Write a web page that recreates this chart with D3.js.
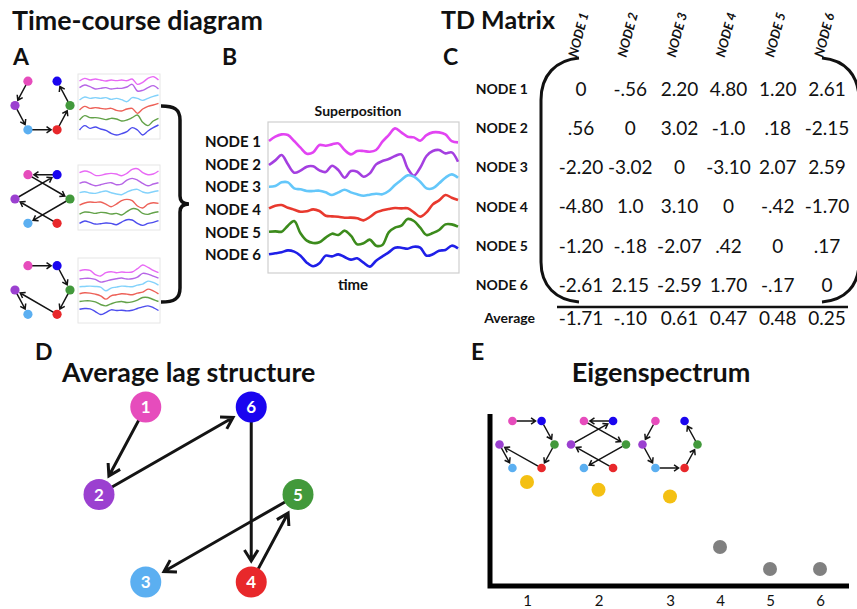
<!DOCTYPE html>
<html>
<head>
<meta charset="utf-8">
<script src="https://cdn.jsdelivr.net/npm/d3@7"></script>
<style>
  body { margin: 0; background: #fff; }
  svg { display: block; }
  text { font-family: Lato, "Open Sans", sans-serif; fill: #111; }
</style>
</head>
<body>
<svg id="fig" width="857" height="609"></svg>
<script>
// ---------------- data ----------------
const nodes = [1, 2, 3, 4, 5, 6];
const nodeLabels = nodes.map(n => "NODE " + n);
const nodeColors = { 1: "#e64cbc", 2: "#9b40d0", 3: "#5baff1", 4: "#e8282b", 5: "#42993b", 6: "#1a05ef" };
const traceColors = ["#e244f2", "#a43fe0", "#64c7fa", "#e8392e", "#3c8b1c", "#1f1fe8"];

// superposition of the node time courses (31 samples each)
const traceNode1 = [0.2,1.5,2.2,2.0,0.2,-1.8,-3.6,-3.2,-1.0,-1.2,-0.8,-0.5,-2.5,-3.8,-2.8,-2.8,-3.0,-2.5,0,2.0,4.0,2.8,1.5,1.3,0.3,2.0,2.8,2.8,2.2,0.2,-0.2];
const traceNode2 = [-0.2,1.2,2.8,0,-2.5,-1.9,-0.7,-0.6,-1.8,-2.3,-0.4,-1.7,-4.0,-2.0,-2.2,-3.7,-2.7,0,1.0,1.6,2.5,3.0,-1.2,-3.4,-1.0,2.5,4.0,4.3,3.3,3.6,0.8];
const traceNode3 = [0.1,0.3,1.4,1.4,-0.4,-0.7,-1.2,-1.2,-1.1,-1.6,-2.4,-1.6,-0.8,-1.6,-2.2,-2.6,-2.3,-2.0,-2.2,-1.2,0.6,2.1,3.5,3.1,1.6,-0.4,-0.4,1.1,2.8,3.8,2.8];
const traceNode4 = [0.4,1.2,1.4,0.6,0,-0.6,-0.5,0.1,-0.4,-1.8,-2.0,-2.1,-2.4,-2.4,-2.6,-3.2,-2.2,-0.8,-0.2,0.2,0.5,0.4,0.4,-0.8,-2.1,-0.8,1.6,2.8,4.4,3.6,2.9];
const traceNode5 = [0.2,0.3,0.2,2.0,3.4,-0.3,-2.5,-3.2,-3.0,-1.6,-0.4,-0.8,0.5,-1.0,-3.6,-3.3,-2.2,-4.0,-3.8,0,1.4,2.0,4.0,3.4,1.4,-0.8,-0.2,0.7,2.4,2.4,1.7];
const traceNode6 = [0.2,0.5,0.8,1.4,1.0,-0.2,-2.3,-3.4,-2.5,-0.2,-0.4,0.2,-0.6,-1.4,-1.0,-2.3,-3.5,-1.7,-0.4,0.8,2.2,2.2,1.9,2.5,2.2,-0.2,0.2,1.3,1.5,2.8,2.0];
const superposition = [traceNode1, traceNode2, traceNode3, traceNode4, traceNode5, traceNode6];

// short time courses generated by each lag pattern (16 samples each, nodes 1..6)
const chainTraces = [
  [-0.3,0.5,0,0.3,0,-0.3,0,-0.2,0,-0.2,0.3,-1.3,-0.7,0.5,1.0,0],
  [0.7,1.5,1.0,0.3,0.5,0.7,0.3,0.5,0.5,0.9,1.7,-0.3,-0.1,0.7,1.3,0.3],
  [0,0.9,0.5,0.7,0.5,0.7,0.2,0.5,0.1,-0.5,0.7,0.5,-0.1,0.5,1.1,1.5],
  [0,1.1,0.5,0.7,0.5,0.3,0.5,-0.1,-0.3,0.3,0.5,-1.0,0.3,1.1,1.5,2.0],
  [0,1.3,0.7,0.7,0.5,0.1,0.5,0.3,-0.3,0,0.7,1.5,-0.7,-1.7,-0.3,0.5],
  [0,1.3,0.5,0.9,0.3,-0.1,-1.0,-1.5,-1.1,-0.5,0.7,0,-1.5,-0.3,0.7,1.5]
];
const crossTraces = [
  [0,0.5,0.1,-0.8,-0.8,-0.4,-0.2,-0.4,-0.9,-0.2,1.0,1.2,0,-0.6,-0.4,0.5],
  [-0.2,0.2,-0.4,-0.9,-0.6,-0.2,0,-0.6,-0.4,0.8,1.3,0.8,-0.2,-0.9,-0.4,0],
  [0,0.3,-0.1,-0.2,0.2,0.5,0,-0.4,-0.6,0.2,0.8,1.0,0.2,-0.1,0.3,0.6],
  [-0.7,-0.1,0.2,0.1,0.2,-0.4,-1.2,-0.4,0.6,1.0,0.6,-1.0,-1.6,-0.4,0,-0.2],
  [-0.4,0.2,0.1,-0.2,0.1,0,-0.4,-0.2,-0.7,0.3,1.2,1.0,-0.2,-0.5,0,0.3],
  [-0.2,0.5,0.1,-0.4,-0.3,-0.1,-0.2,-0.6,0.2,0.9,0.8,-0.2,-0.8,-0.2,0.1,0.6]
];
const loopTraces = [
  [0,0.3,0.1,-1.2,-1.6,-0.6,-0.3,-0.6,-0.4,-0.5,-0.4,0.6,1.7,1.0,0.1,-0.6],
  [-0.2,0,0,-0.3,-1.1,-0.8,-0.4,-0.1,0.1,-0.2,-0.1,0.4,1.5,1.3,0.7,0.1],
  [-0.2,-0.1,0,-0.1,-0.3,-1.4,-0.6,-0.3,0,-0.1,-0.2,0.3,0.6,1.5,1.1,0.3],
  [0,0.3,0.2,-0.1,-0.6,-1.6,-0.6,-0.3,0,-0.1,-0.3,0.2,0.5,1.4,0.9,0],
  [0,0.2,0.2,-0.1,-0.9,-1.3,-0.7,-0.2,0,-0.3,-0.1,0.4,1.2,1.2,0.6,0],
  [0,0.2,0.1,-0.7,-1.6,-1.0,-0.2,-0.4,-0.3,-0.5,-0.3,0.2,0.7,1.0,0.5,-0.4]
];

// directed lag edges [from, to]
const edgesChain = [[1,2],[2,3],[3,4],[4,5],[5,6]];
const edgesCross = [[6,1],[1,5],[2,6],[4,2],[5,3]];
const edgesLoop = [[1,6],[6,5],[5,4],[4,2],[2,3]];
const edgesAverage = [[1,2],[2,6],[6,4],[4,5],[5,3]];

// time-delay matrix (row node leads column node)
const tdMatrix = [
  ["0", "-.56", "2.20", "4.80", "1.20", "2.61"],
  [".56", "0", "3.02", "-1.0", ".18", "-2.15"],
  ["-2.20", "-3.02", "0", "-3.10", "2.07", "2.59"],
  ["-4.80", "1.0", "3.10", "0", "-.42", "-1.70"],
  ["-1.20", "-.18", "-2.07", ".42", "0", ".17"],
  ["-2.61", "2.15", "-2.59", "1.70", "-.17", "0"]
];
const tdAverage = ["-1.71", "-.10", "0.61", "0.47", "0.48", "0.25"];

// eigenspectrum
const eigenIndex = [1, 2, 3, 4, 5, 6];
const eigenValues = [6.05, 5.6, 5.2, 2.27, 0.99, 0.99];
const significantModes = 3;

// ---------------- helpers ----------------
const svg = d3.select("#fig");
const hexUnit = { 1: [-0.53, -1], 6: [0.53, -1], 2: [-1, 0], 5: [1, 0], 3: [-0.53, 1], 4: [0.53, 1] };
const hexLayout = (cx, cy, hw, hh) => id => [cx + hexUnit[id][0] * hw, cy + hexUnit[id][1] * hh];

function arrow(g, a, b, o) {
  const dx = b[0] - a[0], dy = b[1] - a[1], L = Math.hypot(dx, dy);
  const ux = dx / L, uy = dy / L, ang = Math.atan2(uy, ux);
  const s = [a[0] + ux * o.start, a[1] + uy * o.start];
  const t = [b[0] - ux * o.tip, b[1] - uy * o.tip];
  const w1 = [t[0] - o.head * Math.cos(ang - o.spread), t[1] - o.head * Math.sin(ang - o.spread)];
  const w2 = [t[0] - o.head * Math.cos(ang + o.spread), t[1] - o.head * Math.sin(ang + o.spread)];
  g.append("path")
    .attr("d", `M${s}L${t}M${w1}L${t}L${w2}`)
    .attr("fill", "none").attr("stroke", "#141414")
    .attr("stroke-width", o.width).attr("stroke-linejoin", "miter");
}

function lagGraph(g, edges, pos, r, arrowOpts, withLabels) {
  edges.forEach(([a, b]) => arrow(g, pos(a), pos(b), arrowOpts));
  const n = g.selectAll("g.node").data(nodes).join("g").attr("class", "node")
    .attr("transform", d => `translate(${pos(d)})`);
  n.append("circle").attr("r", r).attr("fill", d => nodeColors[d]);
  if (withLabels) {
    n.append("text").text(d => d).attr("text-anchor", "middle").attr("dy", "0.36em")
      .style("fill", "#fff").style("font-weight", 700).style("font-size", "17px");
  }
}

function miniTraces(g, series, box, firstRow, rowStep) {
  g.append("rect").attr("x", box[0]).attr("y", box[1]).attr("width", box[2]).attr("height", box[3])
    .attr("fill", "#fff").attr("stroke", "#e6e6e6").attr("stroke-width", 1);
  const x = d3.scaleLinear().domain([0, series[0].length - 1]).range([box[0] + 1.5, box[0] + box[2] - 1.5]);
  const amp = d3.scaleLinear().domain([-1, 1]).range([3.33, -3.33]);
  series.forEach((s, i) => {
    const base = firstRow + i * rowStep;
    g.append("path").datum(s)
      .attr("d", d3.line().x((d, j) => x(j)).y(d => base + amp(d)).curve(d3.curveCatmullRom)(s))
      .attr("fill", "none").attr("stroke", traceColors[i]).attr("stroke-width", 1.4).attr("opacity", 0.8);
  });
}

const bold = (sel, size) => sel.style("font-weight", 700).style("font-size", size + "px");

// ---------------- panel A ----------------
const gA = svg.append("g");
bold(gA.append("text").attr("x", 12).attr("y", 30).text("Time-course diagram"), 26.8);
bold(gA.append("text").attr("x", 13).attr("y", 65).text("A"), 23);

const miniArrow = { start: 4, tip: 6, head: 5.5, spread: 0.6, width: 1.5 };
const rowsA = [
  { edges: edgesChain, traces: chainTraces, gy: 105.5, box: [78, 74, 82, 65], first: 80, step: 10 },
  { edges: edgesCross, traces: crossTraces, gy: 199, box: [78, 165, 82, 65], first: 172.7, step: 10 },
  { edges: edgesLoop, traces: loopTraces, gy: 290, box: [78, 258, 82, 65], first: 270.7, step: 7.7 }
];
rowsA.forEach(r => {
  lagGraph(gA.append("g"), r.edges, hexLayout(42.5, r.gy, 27.5, 24.3), 4.6, miniArrow, false);
  miniTraces(gA.append("g"), r.traces, r.box, r.first, r.step);
});

// curly brace joining the three patterns
gA.append("path")
  .attr("d", "M161,106 C174,106 180,109 180,120 L180,196 C180,201 183,204 189,204 C183,204 180,207 180,212 L180,288 C180,299 174,302 161,302")
  .attr("fill", "none").attr("stroke", "#111").attr("stroke-width", 3.5);

// ---------------- panel B ----------------
const gB = svg.append("g");
bold(gB.append("text").attr("x", 222).attr("y", 65).text("B"), 23);
bold(gB.append("text").attr("x", 358).attr("y", 116).attr("text-anchor", "middle").text("Superposition"), 14);
gB.append("rect").attr("x", 268).attr("y", 122).attr("width", 191).attr("height", 151)
  .attr("fill", "#fff").attr("stroke", "#cfcfcf").attr("stroke-width", 1.2);
const xB = d3.scaleLinear().domain([0, traceNode1.length - 1]).range([269, 458]);
const rowB = d3.scalePoint().domain(nodes).range([141.7, 255]);
const ampB = d3.scaleLinear().domain([-1, 1]).range([3.33, -3.33]);
superposition.forEach((s, i) => {
  const base = rowB(nodes[i]);
  gB.append("path")
    .attr("d", d3.line().x((d, j) => xB(j)).y(d => base + ampB(d)).curve(d3.curveCatmullRom)(s))
    .attr("fill", "none").attr("stroke", traceColors[i]).attr("stroke-width", 2.6)
    .attr("stroke-linejoin", "round");
});
gB.selectAll("text.nl").data(nodes).join("text").attr("class", "nl")
  .attr("x", 261).attr("y", d => rowB(d)).attr("dy", "0.36em").attr("text-anchor", "end")
  .text((d, i) => nodeLabels[i]).style("font-weight", 700).style("font-size", "15px");
bold(gB.append("text").attr("x", 353).attr("y", 290).attr("text-anchor", "middle").text("time"), 15);

// ---------------- panel C ----------------
const gC = svg.append("g");
bold(gC.append("text").attr("x", 443).attr("y", 65).text("C"), 23);
bold(gC.append("text").attr("x", 441).attr("y", 29).text("TD Matrix"), 25);
const colC = d3.scalePoint().domain(nodes).range([581, 827]);
const rowC = d3.scalePoint().domain(nodes).range([89, 285]);

gC.selectAll("text.ch").data(nodes).join("text").attr("class", "ch")
  .attr("transform", d => `translate(${colC(d) - 4},${58}) rotate(-75)`)
  .text((d, i) => nodeLabels[i])
  .style("font-weight", 700).style("font-style", "italic").style("font-size", "13px");

gC.selectAll("text.rl").data(nodes).join("text").attr("class", "rl")
  .attr("x", 528).attr("y", d => rowC(d)).attr("dy", "0.36em").attr("text-anchor", "end")
  .text((d, i) => nodeLabels[i]).style("font-weight", 700).style("font-size", "14px");

tdMatrix.forEach((row, i) => {
  gC.selectAll(null).data(row).join("text")
    .attr("x", (d, j) => colC(nodes[j])).attr("y", rowC(nodes[i])).attr("dy", "0.36em")
    .attr("text-anchor", "middle").text(d => d).style("font-size", "19px");
});

// matrix brackets
gC.append("path").attr("d", "M579,58 C556,60 541,75 541,100 L541,262 C541,286 556,300 579,302")
  .attr("fill", "none").attr("stroke", "#111").attr("stroke-width", 3);
gC.append("path").attr("d", "M822,58 C845,60 859,75 859,100 L859,262 C859,286 845,300 822,302")
  .attr("fill", "none").attr("stroke", "#111").attr("stroke-width", 3);

gC.append("line").attr("x1", 557).attr("x2", 848).attr("y1", 307).attr("y2", 307)
  .attr("stroke", "#111").attr("stroke-width", 2.6);
bold(gC.append("text").attr("x", 535).attr("y", 318).attr("dy", "0.36em").attr("text-anchor", "end").text("Average"), 14);
gC.selectAll("text.avg").data(tdAverage).join("text").attr("class", "avg")
  .attr("x", (d, j) => colC(nodes[j])).attr("y", 318).attr("dy", "0.36em")
  .attr("text-anchor", "middle").text(d => d).style("font-size", "19px");

// ---------------- panel D ----------------
const gD = svg.append("g");
bold(gD.append("text").attr("x", 35).attr("y", 360).text("D"), 23);
bold(gD.append("text").attr("x", 62).attr("y", 382).text("Average lag structure"), 26.8);
lagGraph(gD.append("g"), edgesAverage, hexLayout(198.5, 494.5, 99.5, 87.5), 15.5,
  { start: 14, tip: 21, head: 13, spread: 0.55, width: 3 }, true);

// ---------------- panel E ----------------
const gE = svg.append("g");
bold(gE.append("text").attr("x", 471).attr("y", 360).text("E"), 23);
bold(gE.append("text").attr("x", 661).attr("y", 382).attr("text-anchor", "middle").text("Eigenspectrum"), 27);

const xE = d3.scaleLinear().domain([1, 3, 6]).range([527, 670, 820]);
const yE = d3.scaleLinear().domain([0, 10]).range([586, 414]);

gE.append("path").attr("d", `M490,${yE(10)} L490,${yE(0)} L849,${yE(0)}`)
  .attr("fill", "none").attr("stroke", "#000").attr("stroke-width", 5);

const axE = gE.append("g").attr("transform", `translate(0,${yE(0)})`)
  .call(d3.axisBottom(xE).tickValues(eigenIndex).tickSize(0).tickPadding(9).tickFormat(d3.format("d")));
axE.select(".domain").remove();
axE.selectAll("text").style("font-size", "15px").style("font-family", "Lato, sans-serif").attr("fill", "#111");

gE.selectAll("circle.ev").data(eigenValues).join("circle").attr("class", "ev")
  .attr("cx", (d, i) => xE(eigenIndex[i])).attr("cy", d => yE(d)).attr("r", 7)
  .attr("fill", (d, i) => i < significantModes ? "#f4c013" : "#808080");

[edgesLoop, edgesCross, edgesChain].forEach((edges, i) => {
  lagGraph(gE.append("g"), edges, hexLayout(xE(eigenIndex[i]), 444.5, 27.5, 23.5), 4.3, miniArrow, false);
});
</script>
</body>
</html>
